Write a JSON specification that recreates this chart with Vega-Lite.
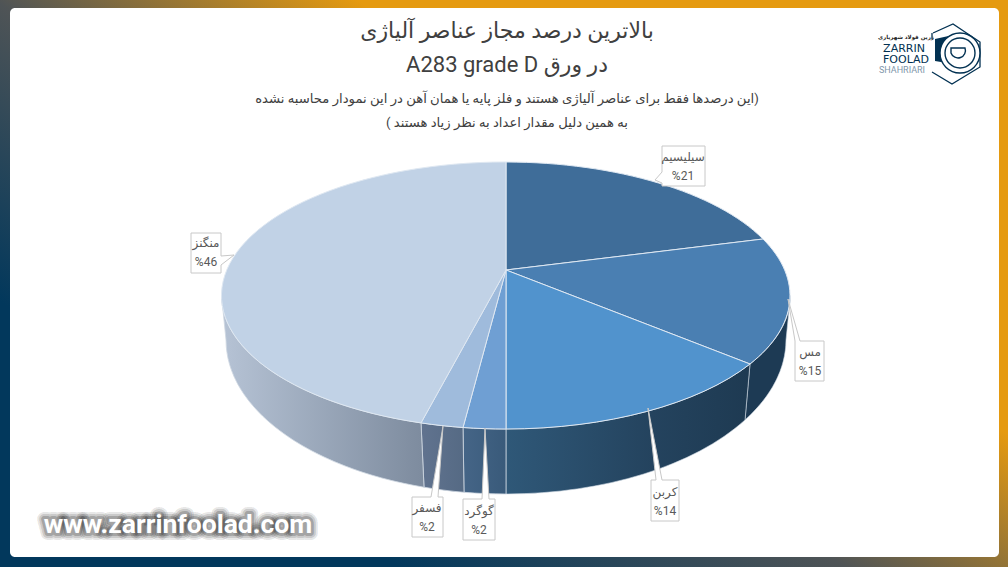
{
"$schema":"https://vega.github.io/schema/vega-lite/v6.json",
"width":1008,"height":567,"padding":0,"autosize":"none","background":"#ffffff",
"config":{"axis":{"disable":true},"view":{"stroke":null},"font":"Roboto, 'DejaVu Sans'"},
"title":{"text":["بالاترین درصد مجاز عناصر آلیاژی","A283 grade D در ورق"],"subtitle":["این درصدها فقط برای عناصر آلیاژی هستند و فلز پایه یا همان آهن در این نمودار محاسبه نشده)","( به همین دلیل مقدار اعداد به نظر زیاد هستند"],"anchor":"middle","frame":"group","orient":"top","offset":-130,"dx":3,"font":"Roboto, 'DejaVu Sans'","fontSize":22,"fontWeight":"normal","lineHeight":34,"color":"#404040","subtitleFont":"Roboto, 'DejaVu Sans'","subtitleFontSize":13.2,"subtitleColor":"#404040","subtitleLineHeight":24,"subtitlePadding":15.5},
"datasets":{"slices":[
{"element":"سیلیسیم","percent":21,"label":"سیلیسیم\n%21"},
{"element":"مس","percent":15,"label":"مس\n%15"},
{"element":"کربن","percent":14,"label":"کربن\n%14"},
{"element":"گوگرد","percent":2,"label":"گوگرد\n%2"},
{"element":"فسفر","percent":2,"label":"فسفر\n%2"},
{"element":"منگنز","percent":46,"label":"منگنز\n%46"}
]},
"data":{"name":"slices"},
"resolve":{"scale":{"shape":"independent"}},
"layer":[
{"data":{"values":[{"part":"frame"}]},"mark":{"type":"rect","fill":{"gradient":"linear","x1":0,"y1":1,"x2":0.7,"y2":0.41,"stops":[{"offset":0,"color":"#02385c"},{"offset":0.33,"color":"#02385c"},{"offset":0.7,"color":"#4f5456"},{"offset":1,"color":"#e59a10"}]}},
 "encoding":{"x":{"datum":0,"type":"quantitative","scale":{"domain":[0,1008],"nice":false,"zero":false}},"x2":{"datum":1008},"y":{"datum":0,"type":"quantitative","scale":{"domain":[567,0],"nice":false,"zero":false}},"y2":{"datum":567}}},
{"data":{"values":[{"part":"panel"}]},"mark":{"type":"rect","fill":"#ffffff","cornerRadius":5},
 "encoding":{"x":{"datum":10,"type":"quantitative"},"x2":{"datum":999},"y":{"datum":8,"type":"quantitative"},"y2":{"datum":557}}},
{"transform":[{"filter":"datum.percent==15"}],"mark":{"type":"point","filled":true,"size":4,"opacity":1,"stroke":"#cfd8e2","strokeWidth":0.6,"fill":"#1d3a54"},
 "encoding":{"x":{"datum":506,"type":"quantitative"},"y":{"datum":270,"type":"quantitative"},"shape":{"value":"M284.5,25.5 A284.5,133.5 0 0 1 244,94 L239,150 A280,154 0 0 0 280,70 Z"}}},
{"transform":[{"filter":"datum.percent==14"}],"mark":{"type":"point","filled":true,"size":4,"opacity":1,"stroke":"#cfd8e2","strokeWidth":0.6,"fill":{"gradient":"linear","x1":0,"y1":0,"x2":1,"y2":0,"stops":[{"offset":0,"color":"#2f5878"},{"offset":0.6,"color":"#24435e"},{"offset":1,"color":"#1e3a52"}]}},
 "encoding":{"x":{"datum":506,"type":"quantitative"},"y":{"datum":270,"type":"quantitative"},"shape":{"value":"M244,94 A284.5,133.5 0 0 1 0,159 L0,224 A280,154 0 0 0 239,150 Z"}}},
{"transform":[{"filter":"datum.element=='گوگرد'"}],"mark":{"type":"point","filled":true,"size":4,"opacity":1,"stroke":"#cfd8e2","strokeWidth":0.8,"fill":{"gradient":"linear","x1":0,"y1":0,"x2":1,"y2":0,"stops":[{"offset":0,"color":"#456587"},{"offset":1,"color":"#395a7a"}]}},
 "encoding":{"x":{"datum":506,"type":"quantitative"},"y":{"datum":270,"type":"quantitative"},"shape":{"value":"M0,159 A284.5,133.5 0 0 1 -43,157.5 L-42,222.3 A280,154 0 0 0 0,224 Z"}}},
{"transform":[{"filter":"datum.element=='فسفر'"}],"mark":{"type":"point","filled":true,"size":4,"opacity":1,"stroke":"#cfd8e2","strokeWidth":0.8,"fill":{"gradient":"linear","x1":0,"y1":0,"x2":1,"y2":0,"stops":[{"offset":0,"color":"#61738f"},{"offset":1,"color":"#556a84"}]}},
 "encoding":{"x":{"datum":506,"type":"quantitative"},"y":{"datum":270,"type":"quantitative"},"shape":{"value":"M-43,157.5 A284.5,133.5 0 0 1 -85,152.9 L-82,217.2 A280,154 0 0 0 -42,222.3 Z"}}},
{"transform":[{"filter":"datum.percent==46"}],"mark":{"type":"point","filled":true,"size":4,"opacity":1,"stroke":"#cfd8e2","strokeWidth":0.8,"fill":{"gradient":"linear","x1":0,"y1":0,"x2":1,"y2":0,"stops":[{"offset":0,"color":"#b6c3d5"},{"offset":1,"color":"#7d8b9e"}]}},
 "encoding":{"x":{"datum":506,"type":"quantitative"},"y":{"datum":270,"type":"quantitative"},"shape":{"value":"M-85,152.9 A284.5,133.5 0 0 1 -284.5,25.5 L-280,70 A280,154 0 0 0 -82,217.2 Z"}}},
{"mark":{"type":"point","filled":true,"size":4,"opacity":1,"stroke":"#dfe8f2","strokeWidth":1},
 "encoding":{"x":{"datum":506,"type":"quantitative"},"y":{"datum":270,"type":"quantitative"},
  "shape":{"field":"element","type":"nominal","legend":null,"scale":{"domain":["سیلیسیم","مس","کربن","گوگرد","فسفر","منگنز"],"range":["M0,0 L0,-108 A284.5,133.5 0 0 1 257,-31 Z","M0,0 L257,-31 A284.5,133.5 0 0 1 244,94 Z","M0,0 L244,94 A284.5,133.5 0 0 1 0,159 Z","M0,0 L0,159 A284.5,133.5 0 0 1 -43,157.5 Z","M0,0 L-43,157.5 A284.5,133.5 0 0 1 -85,152.9 Z","M0,0 L-85,152.9 A284.5,133.5 0 0 1 0,-108 Z"]}},
  "color":{"field":"element","type":"nominal","legend":null,"scale":{"domain":["سیلیسیم","مس","کربن","گوگرد","فسفر","منگنز"],"range":["#3f6d99","#4a7fb2","#5193cd","#6f9fd3","#9fbbdc","#c1d2e6"]}}}},
{"mark":{"type":"point","filled":true,"size":4,"opacity":1,"fill":"#ffffff","stroke":"#c8c8c8","strokeWidth":1},
 "encoding":{"x":{"datum":506,"type":"quantitative"},"y":{"datum":270,"type":"quantitative"},
  "shape":{"field":"label","type":"nominal","legend":null,"scale":{"domain":["سیلیسیم\n%21","مس\n%15","کربن\n%14","گوگرد\n%2","فسفر\n%2","منگنز\n%46"],"range":["M156,-124 L199,-124 L199,-84 L156,-84 L156,-87 L149,-90 L156,-98 Z","M289,71 L282,29 L294,71 L318,71 L318,111 L289,111 Z","M145,210 L150,210 L142,138 L156,210 L173,210 L173,251 L145,251 Z","M-43,229 L-24,229 L-21,158 L-17,229 L-11,229 L-11,270 L-43,270 Z","M-94,227 L-75,227 L-63,156 L-68,227 L-63,227 L-63,267 L-94,267 Z","M-315,-37 L-285,-37 L-285,-14 L-272,-15 L-285,-5 L-285,3 L-315,3 Z"]}}}},
{"transform":[{"filter":"datum.percent==21"}],"mark":{"type":"text","lineBreak":"\n","lineHeight":18.5,"fontSize":12,"color":"#595959","font":"Roboto, 'DejaVu Sans'"},"encoding":{"x":{"datum":683,"type":"quantitative"},"y":{"datum":157,"type":"quantitative"},"text":{"field":"label"}}},
{"transform":[{"filter":"datum.percent==15"}],"mark":{"type":"text","lineBreak":"\n","lineHeight":18.5,"fontSize":12,"color":"#595959","font":"Roboto, 'DejaVu Sans'"},"encoding":{"x":{"datum":810,"type":"quantitative"},"y":{"datum":352,"type":"quantitative"},"text":{"field":"label"}}},
{"transform":[{"filter":"datum.percent==14"}],"mark":{"type":"text","lineBreak":"\n","lineHeight":18.5,"fontSize":12,"color":"#595959","font":"Roboto, 'DejaVu Sans'"},"encoding":{"x":{"datum":665,"type":"quantitative"},"y":{"datum":492,"type":"quantitative"},"text":{"field":"label"}}},
{"transform":[{"filter":"datum.element=='گوگرد'"}],"mark":{"type":"text","lineBreak":"\n","lineHeight":18.5,"fontSize":12,"color":"#595959","font":"Roboto, 'DejaVu Sans'"},"encoding":{"x":{"datum":479,"type":"quantitative"},"y":{"datum":511,"type":"quantitative"},"text":{"field":"label"}}},
{"transform":[{"filter":"datum.element=='فسفر'"}],"mark":{"type":"text","lineBreak":"\n","lineHeight":18.5,"fontSize":12,"color":"#595959","font":"Roboto, 'DejaVu Sans'"},"encoding":{"x":{"datum":427,"type":"quantitative"},"y":{"datum":508,"type":"quantitative"},"text":{"field":"label"}}},
{"transform":[{"filter":"datum.percent==46"}],"mark":{"type":"text","lineBreak":"\n","lineHeight":18.5,"fontSize":12,"color":"#595959","font":"Roboto, 'DejaVu Sans'"},"encoding":{"x":{"datum":206,"type":"quantitative"},"y":{"datum":243,"type":"quantitative"},"text":{"field":"label"}}},
{"data":{"values":[{"site":"www.zarrinfoolad.com"}]},"mark":{"type":"text","font":"Roboto","fontSize":26.5,"fontWeight":"bold","stroke":"#000000","strokeWidth":14,"strokeOpacity":0.1,"strokeJoin":"round","fill":"#ffffff","fillOpacity":0},"encoding":{"x":{"datum":178,"type":"quantitative"},"y":{"datum":525,"type":"quantitative"},"text":{"field":"site"}}},
{"data":{"values":[{"site":"www.zarrinfoolad.com"}]},"mark":{"type":"text","font":"Roboto","fontSize":26.5,"fontWeight":"bold","stroke":"#000000","strokeWidth":10,"strokeOpacity":0.15,"strokeJoin":"round","fill":"#ffffff","fillOpacity":0},"encoding":{"x":{"datum":178,"type":"quantitative"},"y":{"datum":525,"type":"quantitative"},"text":{"field":"site"}}},
{"data":{"values":[{"site":"www.zarrinfoolad.com"}]},"mark":{"type":"text","font":"Roboto","fontSize":26.5,"fontWeight":"bold","stroke":"#000000","strokeWidth":6,"strokeOpacity":0.2,"strokeJoin":"round","fill":"#ffffff","fillOpacity":0},"encoding":{"x":{"datum":178,"type":"quantitative"},"y":{"datum":525,"type":"quantitative"},"text":{"field":"site"}}},
{"data":{"values":[{"site":"www.zarrinfoolad.com"}]},"mark":{"type":"text","font":"Roboto","fontSize":26.5,"fontWeight":"bold","fill":"#ffffff"},"encoding":{"x":{"datum":178,"type":"quantitative"},"y":{"datum":525,"type":"quantitative"},"text":{"field":"site"}}},
{"data":{"values":[{"part":"logo-block"}]},"mark":{"type":"point","filled":true,"size":4,"opacity":1,"fill":"#023152","stroke":null},"encoding":{"x":{"datum":957,"type":"quantitative"},"y":{"datum":54,"type":"quantitative"},"shape":{"value":"M-22,-15 L-4,-19 L-4,10 L-22,7 Z"}}},
{"data":{"values":[{"part":"logo-hex"}]},"mark":{"type":"point","filled":false,"size":4,"opacity":1,"stroke":"#023152","strokeWidth":1.3},"encoding":{"x":{"datum":957,"type":"quantitative"},"y":{"datum":54,"type":"quantitative"},"shape":{"value":"M-24,-21 L-4,-30 L23,-12 L23,13 L-5,30 L-25,18 M-25,-21 L-25,-15"}}},
{"data":{"values":[{"part":"logo-ring"}]},"mark":{"type":"point","filled":true,"size":4,"opacity":1,"fill":"#ffffff","stroke":"#023152","strokeWidth":1.4},"encoding":{"x":{"datum":957,"type":"quantitative"},"y":{"datum":54,"type":"quantitative"},"shape":{"value":"M-17,-1 A20,20 0 1 1 23,-1 A20,20 0 1 1 -17,-1 Z"}}},
{"data":{"values":[{"part":"logo-ring"}]},"mark":{"type":"point","filled":false,"size":4,"opacity":1,"stroke":"#023152","strokeWidth":1.4},"encoding":{"x":{"datum":957,"type":"quantitative"},"y":{"datum":54,"type":"quantitative"},"shape":{"value":"M-12,-1 A15,15 0 1 1 18,-1 A15,15 0 1 1 -12,-1 Z M-6,-6 L8,-6 A7,7 0 1 1 -6,-1 Z"}}},
{"data":{"values":[{"t":"زرین فولاد شهریاری"}]},"mark":{"type":"text","font":"'DejaVu Sans'","fontSize":5.5,"fontWeight":"bold","color":"#222222"},"encoding":{"x":{"datum":906,"type":"quantitative"},"y":{"datum":37,"type":"quantitative"},"text":{"field":"t"}}},
{"data":{"values":[{"t":"ZARRIN"}]},"mark":{"type":"text","font":"'DejaVu Sans'","fontSize":11,"color":"#023152"},"encoding":{"x":{"datum":904,"type":"quantitative"},"y":{"datum":48.5,"type":"quantitative"},"text":{"field":"t"}}},
{"data":{"values":[{"t":"FOOLAD"}]},"mark":{"type":"text","font":"'DejaVu Sans'","fontSize":11,"color":"#023152"},"encoding":{"x":{"datum":906,"type":"quantitative"},"y":{"datum":59.5,"type":"quantitative"},"text":{"field":"t"}}},
{"data":{"values":[{"t":"SHAHRIARI"}]},"mark":{"type":"text","font":"Roboto","fontSize":9,"color":"#7f97ab"},"encoding":{"x":{"datum":902,"type":"quantitative"},"y":{"datum":69.5,"type":"quantitative"},"text":{"field":"t"}}}
]
}
